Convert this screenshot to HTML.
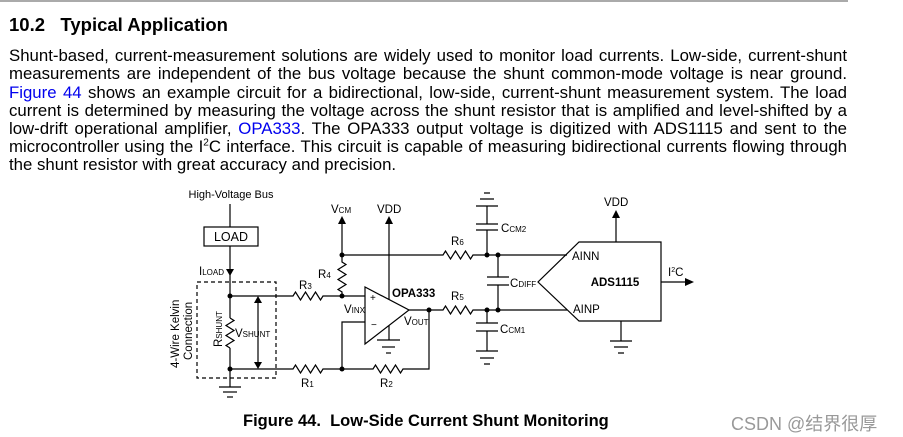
<!DOCTYPE html>
<html><head><meta charset="utf-8"><style>
body{margin:0;width:903px;height:437px;background:#fff;position:relative;overflow:hidden;font-family:"Liberation Sans",Arial,sans-serif;color:#000}
.hr{position:absolute;left:0;top:0;width:848px;height:2px;background:#aaa}
.h{position:absolute;left:9px;top:14px;font-weight:bold;font-size:18.5px}
.p{position:absolute;left:9px;width:838px;font-size:16.8px;text-align:justify;text-align-last:justify;white-space:nowrap;line-height:18px}
.p.l{text-align-last:left}
a{color:#0000ee;text-decoration:none}
svg{position:absolute;left:0;top:0}
.cap{position:absolute;left:243px;top:412px;font-weight:bold;font-size:16.5px}
.wm{position:absolute;left:731px;top:410px;font-size:18px;color:#999;font-family:"Liberation Sans","Noto Sans CJK SC",sans-serif}
</style></head><body>
<div class="hr"></div>
<div class="h">10.2&nbsp;&nbsp;&nbsp;Typical Application</div>
<div class="p" style="top:47px">Shunt-based, current-measurement solutions are widely used to monitor load currents. Low-side, current-shunt</div>
<div class="p" style="top:65px">measurements are independent of the bus voltage because the shunt common-mode voltage is near ground.</div>
<div class="p" style="top:84px"><a>Figure 44</a> shows an example circuit for a bidirectional, low-side, current-shunt measurement system. The load</div>
<div class="p" style="top:102px">current is determined by measuring the voltage across the shunt resistor that is amplified and level-shifted by a</div>
<div class="p" style="top:120px">low-drift operational amplifier, <a>OPA333</a>. The OPA333 output voltage is digitized with ADS1115 and sent to the</div>
<div class="p" style="top:138px">microcontroller using the I<sup style="font-size:10px;line-height:0">2</sup>C interface. This circuit is capable of measuring bidirectional currents flowing through</div>
<div class="p l" style="top:156px">the shunt resistor with great accuracy and precision.</div>

<svg width="903" height="437" viewBox="0 0 903 437" font-family="Liberation Sans, Arial, sans-serif" font-size="11.5">
<g stroke="#000" stroke-width="1.2" fill="none">
<line x1="230" y1="204" x2="230" y2="227"/>
<rect x="204" y="227" width="54" height="19"/>
<line x1="230" y1="246" x2="230" y2="318"/>
<path d="M230 348 L230 387"/>
<path d="M230 318 l4 2.5 l-8 5 l8 5 l-8 5 l8 5 l-8 5 l4 2.5"/>
<line x1="219" y1="387" x2="241" y2="387"/><line x1="223" y1="392" x2="237" y2="392"/><line x1="227" y1="397" x2="233" y2="397"/>
<rect x="197" y="282" width="79" height="96" stroke-dasharray="4,3"/>
<path d="M230 296 H293 l2.5 -4 l5 8 l5 -8 l5 8 l5 -8 l5 8 l2.5 -4 H365"/>
<path d="M230 369 H293 l2.5 -4 l5 8 l5 -8 l5 8 l5 -8 l5 8 l2.5 -4 H373 l2.5 -4 l5 8 l5 -8 l5 8 l5 -8 l5 8 l2.5 -4 H429 V310"/>
<line x1="258" y1="302" x2="258" y2="363"/>
<path d="M342 222 V262 l4 2.5 l-8 5 l8 5 l-8 5 l8 5 l-8 5 l4 2.5 V296"/>
<path d="M342 255 H443 l2.5 -4 l5 8 l5 -8 l5 8 l5 -8 l5 8 l2.5 -4 H567"/>
<path d="M365 322 H342 V369"/>
<path d="M389 222 V340"/>
<line x1="377" y1="340" x2="400" y2="340"/><line x1="382" y1="347" x2="395" y2="347"/><line x1="386" y1="353" x2="391" y2="353"/>
<polygon points="365,287 365,344 409,310" fill="#fff"/>
<path d="M409 310 H443 l2.5 -4 l5 8 l5 -8 l5 8 l5 -8 l5 8 l2.5 -4 H567"/>
<path d="M487 255 V230 M476 230 H498 M476 224 H498 M487 224 V206 M476 206 H498 M480 199 H494 M484 193 H490"/>
<path d="M498 255 V277 M487 277 H509 M487 285 H509 M498 285 V310"/>
<path d="M487 310 V323 M476 323 H498 M476 331 H498 M487 331 V351 M476 351 H498 M480 358 H494 M484 364 H490"/>
<polygon points="579,242 661,242 661,321 579,321 538,282"/>
<path d="M616 242 V216"/>
<path d="M621 321 V341 M610 341 H632 M614 347 H628 M618 353 H624"/>
<path d="M661 282 H686"/>
</g>
<g fill="#000">
<path d="M230 276 l-4 -7 h8z"/>
<path d="M258 296 l-4 7 h8z"/><path d="M258 369 l-4 -7 h8z"/>
<path d="M342 216 l-4 8 h8z"/><path d="M389 216 l-4 8 h8z"/><path d="M616 210 l-4 8 h8z"/>
<path d="M694 282 l-9 -4 v8z"/>
<circle cx="230" cy="296" r="2.5"/><circle cx="230" cy="369" r="2.5"/>
<circle cx="342" cy="255" r="2.5"/><circle cx="342" cy="296" r="2.5"/><circle cx="342" cy="369" r="2.5"/>
<circle cx="429" cy="310" r="2.5"/>
<circle cx="487" cy="255" r="2.5"/><circle cx="498" cy="255" r="2.5"/>
<circle cx="487" cy="310" r="2.5"/><circle cx="498" cy="310" r="2.5"/>
<text x="231" y="198" text-anchor="middle" font-size="11">High-Voltage Bus</text>
<text x="231" y="241" text-anchor="middle" font-size="12.5">LOAD</text>
<text x="199" y="275">I<tspan font-size="8">LOAD</tspan></text>
<text x="299" y="289">R<tspan font-size="8">3</tspan></text>
<text x="301" y="387">R<tspan font-size="8">1</tspan></text>
<text x="380" y="387">R<tspan font-size="8">2</tspan></text>
<text x="318" y="278">R<tspan font-size="8">4</tspan></text>
<text x="235" y="337">V<tspan font-size="8">SHUNT</tspan></text>
<text transform="translate(222,347) rotate(-90)">R<tspan font-size="8">SHUNT</tspan></text>
<text transform="translate(179,368) rotate(-90)">4-Wire Kelvin</text>
<text transform="translate(192,360) rotate(-90)">Connection</text>
<text x="331" y="213">V<tspan font-size="8">CM</tspan></text>
<text x="377" y="213">VDD</text>
<text x="370" y="301" font-size="10">+</text>
<text x="371" y="328" font-size="10">−</text>
<text x="392" y="297" font-weight="bold">OPA333</text>
<text x="344" y="313">V<tspan font-size="8">INX</tspan></text>
<text x="404" y="325">V<tspan font-size="8">OUT</tspan></text>
<text x="451" y="245">R<tspan font-size="8">6</tspan></text>
<text x="451" y="300">R<tspan font-size="8">5</tspan></text>
<text x="501" y="232">C<tspan font-size="8">CM2</tspan></text>
<text x="510" y="287">C<tspan font-size="8">DIFF</tspan></text>
<text x="500" y="333">C<tspan font-size="8">CM1</tspan></text>
<text x="572" y="260">AINN</text>
<text x="573" y="313">AINP</text>
<text x="615" y="286" text-anchor="middle" font-weight="bold">ADS1115</text>
<text x="604" y="206">VDD</text>
<text x="668" y="276">I<tspan font-size="7" dy="-4">2</tspan><tspan dy="4">C</tspan></text>
</g>
</svg>
<div class="cap">Figure 44.&nbsp;&nbsp;Low-Side Current Shunt Monitoring</div>
<div class="wm">CSDN @结界很厚</div>
</body></html>
